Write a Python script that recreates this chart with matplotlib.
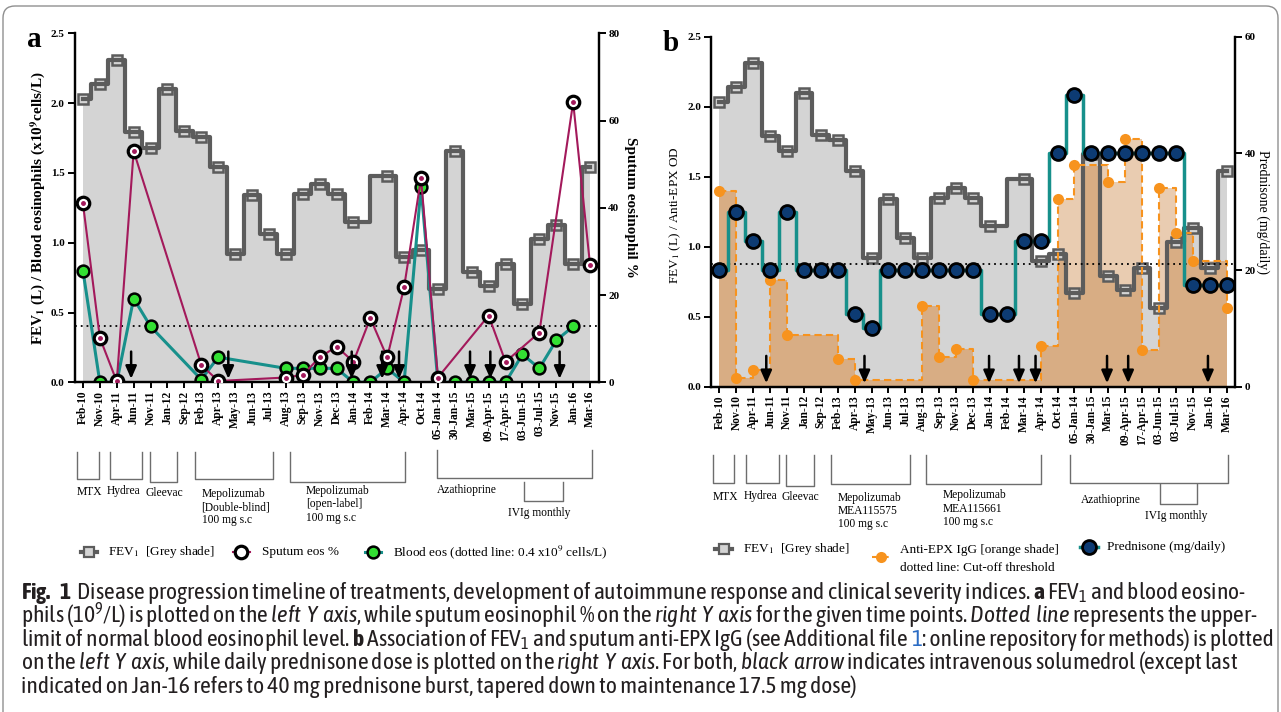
import numpy as np
import matplotlib
matplotlib.use("Agg")
import matplotlib.pyplot as plt
import matplotlib.transforms as mtransforms
from matplotlib.lines import Line2D
from matplotlib.patches import FancyBboxPatch
from matplotlib import font_manager

SERIF = "Liberation Serif"


def gewicht(w):
    if isinstance(w, str):
        return font_manager.weight_dict.get(w, 400)
    return w


def schmale_schrift():
    # schmale Sans fuer die Bildunterschrift suchen, moeglichst mit fettem Schnitt
    familien = {}
    for f in font_manager.fontManager.ttflist:
        if "CJK" in f.name:
            continue
        if "Narrow" in f.name or "Condensed" in f.name:
            familien.setdefault((f.name, "normal"), set()).add(gewicht(f.weight))
        elif "condensed" in str(f.stretch) and f.name in ("DejaVu Sans", "Noto Sans", "Open Sans", "Roboto",
                                                          "Liberation Sans", "Lato", "Inter"):
            familien.setdefault((f.name, str(f.stretch)), set()).add(gewicht(f.weight))
    mit_fett = sorted(k for k, g in familien.items() if min(g) <= 400 and max(g) >= 700)
    if mit_fett:
        return mit_fett[0][0], mit_fett[0][1], True
    ohne = sorted(k for k, g in familien.items() if min(g) <= 400)
    if ohne:
        return ohne[0][0], ohne[0][1], False
    return "Liberation Sans", "normal", True


SANS, STRETCH, HAT_FETT = schmale_schrift()
muster = SANS if STRETCH == "normal" else SANS + ":stretch=" + STRETCH

plt.rcParams["font.family"] = [SERIF, "DejaVu Serif"]
plt.rcParams["mathtext.fontset"] = "custom"
plt.rcParams["mathtext.rm"] = muster + ":weight=normal"
plt.rcParams["mathtext.it"] = muster + ":style=italic:weight=normal"
plt.rcParams["mathtext.bf"] = (muster if HAT_FETT else "Liberation Sans") + ":weight=bold"

# ---------------- Daten (None = kein Messwert) ----------------
datum = ["Feb-10", "Nov-10", "Apr-11", "Jun-11", "Nov-11", "Jan-12", "Sep-12", "Feb-13",
         "Apr-13", "May-13", "Jun-13", "Jul-13", "Aug-13", "Sep-13", "Nov-13", "Dec-13",
         "Jan-14", "Feb-14", "Mar-14", "Apr-14", "Oct-14", "05-Jan-14", "30-Jan-15", "Mar-15",
         "09-Apr-15", "17-Apr-15", "03-Jun-15", "03-Jul-15", "Nov-15", "Jan-16", "Mar-16"]

fev1 = [2.03, 2.14, 2.31, 1.79, 1.68, 2.10, 1.80, 1.76, 1.54, 0.92, 1.34, 1.06, 0.92, 1.35, 1.42, 1.35,
        1.15, None, 1.48, 0.90, 0.95, 0.67, 1.66, 0.79, 0.69, 0.85, 0.56, 1.03, 1.13, 0.85, 1.54]
sputum = [41.0, 10.2, 0.2, 53.0, None, None, None, 4.0, 0.3, None, None, None, 1.1, 1.7, 5.7, 8.2,
          4.7, 14.7, 5.7, 21.8, 46.8, 1.1, None, None, 15.3, 4.7, None, 11.4, None, 64.2, 26.9]
blut_eos = [0.80, 0.0, 0.0, 0.60, 0.40, None, None, 0.02, 0.18, None, None, None, 0.10, 0.10, 0.10, 0.10,
            0.0, 0.0, 0.10, 0.0, 1.40, 0.0, 0.0, 0.0, 0.0, 0.0, 0.20, 0.10, 0.30, 0.40, None]
anti_epx = [1.40, 0.06, 0.12, 0.76, 0.37, None, None, 0.20, 0.05, None, None, None, 0.58, 0.21, 0.27, 0.05,
            None, None, None, 0.29, 1.34, 1.58, None, 1.46, 1.77, 0.26, 1.42, 1.10, 0.90, None, 0.56]
prednison = [20, 30, 25, 20, 30, 20, 20, 20, 12.5, 10, 20, 20, 20, 20, 20, 20,
             12.5, 12.5, 25, 25, 40, 50, 40, 40, 40, 40, 40, 40, 17.5, 17.5, 17.5]
eos_grenze = 0.4
epx_grenze = 0.875
pfeile_a = [2.85, 8.6, 15.9, 17.7, 18.7, 22.9, 24.1, 28.2]   # Solumedrol i.v.
pfeile_b = [2.77, 8.58, 15.95, 17.72, 18.7, 22.93, 24.18, 28.9]

W, H = 1281, 712
GRAU_F = "#d4d4d4"
GRAU = "#5c5c5c"
TEAL = "#17908b"
ROT = "#a3195b"
GRUEN = "#33e033"
NAVY = "#0d3b73"
ORANGE = "#f7931e"
TAN_D = "#d8ad84"
TAN_H = "#e9ccb1"


def fy(y):
    return 1 - y / H


def punkte(werte):
    x = np.array([i for i, w in enumerate(werte) if w is not None])
    y = np.array([w for w in werte if w is not None], dtype=float)
    return x, y


def achsen(ax, ax2, rechts_max, rechts_ticks):
    ax.set_xlim(-0.5, len(datum) - 0.5)
    ax.set_ylim(0, 2.5)
    ax2.set_ylim(0, rechts_max)
    ax.set_xticks(range(len(datum)))
    ax.set_xticklabels(datum, rotation=90, fontsize=8.3, fontweight="bold")
    ax.set_yticks(np.arange(0, 2.51, 0.5), ["%.1f" % v for v in np.arange(0, 2.51, 0.5)],
                  fontweight="bold", fontsize=8)
    ax2.set_yticks(rechts_ticks, [str(v) for v in rechts_ticks], fontweight="bold", fontsize=8)
    for a in (ax, ax2):
        a.spines["top"].set_visible(False)
        for s in a.spines.values():
            s.set_linewidth(1.6)
        a.tick_params(direction="out", width=1.4, length=5, pad=2)
    ax.tick_params(axis="x", length=4)


def fev_zeichnen(ax):
    x, y = punkte(fev1)
    grau = ax.fill_between(x, y, step="mid", color=GRAU_F, lw=0, zorder=1)
    ax.plot(x, y, "s", ms=7.5, mfc=GRAU_F, mec=GRAU, mew=1.8, zorder=4)
    ax.step(x, y, where="mid", color=GRAU, lw=3, zorder=5)
    return grau


def pfeile(ax, ax2, liste):
    for p in liste:
        ax2.annotate("", xy=(p, 0.025), xytext=(p, 0.22), xycoords=ax.transData, textcoords=ax.transData,
                     arrowprops=dict(arrowstyle="-|>,head_width=0.33,head_length=0.75", color="k",
                                     lw=1.8, shrinkA=0, shrinkB=0), zorder=20)


def klammern(fig, ax, liste, texte):
    tr = mtransforms.blended_transform_factory(ax.transData, fig.transFigure)
    for x0, x1, yo, yu in liste:
        ax.plot([x0, x0, x1, x1], [fy(yo), fy(yu), fy(yu), fy(yo)], color="#6d6d6d", lw=1,
                transform=tr, clip_on=False)
    for x, y, s in texte:
        ax.text(x, fy(y), s, transform=tr, va="top", ha="left", fontsize=8.3, linespacing=1.15)


def legende(fig, x0, x1, y, text, linie, punkt, tx=None):
    fig.add_artist(Line2D([x0 / W, (x0 + x1) / 2 / W, x1 / W], [fy(y)] * 3, markevery=[1], **linie, **punkt))
    if text:
        fig.text((tx if tx else x1 + 11) / W, fy(y), text, fontsize=9.5, va="center", math_fontfamily="stix")


fig = plt.figure(figsize=(W / 100, H / 100), dpi=100)

# ---------------- Panel a ----------------
ax = fig.add_axes([74.5 / W, fy(382.3), 524 / W, 349 / H])
ax2 = ax.twinx()
achsen(ax, ax2, 80, [0, 20, 40, 60, 80])
fev_zeichnen(ax)
ax.axhline(eos_grenze, color="k", lw=1.3, ls=(0, (1, 2.2)), zorder=6)
x, y = punkte(blut_eos)
ax.plot(x, y, color=TEAL, lw=2.2, zorder=7)
ax.plot(x, y, "o", ms=8.5, mfc=GRUEN, mec="k", mew=1.8, zorder=8)
x, y = punkte(sputum)
ax2.plot(x, y, color=ROT, lw=1.5, zorder=2)
ax2.plot(x, y, "o", ms=9, mfc="white", mec="k", mew=2.3, zorder=3)
ax2.plot(x, y, "o", ms=2.5, color=ROT, zorder=4)
pfeile(ax, ax2, pfeile_a)
ax.set_ylabel(r"FEV$_\mathbf{1}$ (L) / Blood eosinophils (x10$^\mathbf{9}$cells/L)", fontsize=11,
              fontweight="bold", va="center", math_fontfamily="stix")
ax.yaxis.set_label_coords(-0.0697, 0.5)
ax2.set_ylabel("Sputum eosinophil %", fontsize=11, fontweight="bold", rotation=270, va="center")
ax2.yaxis.set_label_coords(1.062, 0.5)

klammern(fig, ax,
         [(-0.34, 0.95, 452, 479), (1.6, 3.49, 452, 479), (3.96, 5.54, 452, 481.7), (6.63, 11.26, 452, 479),
          (12.25, 19.07, 452, 481.7), (20.96, 30.1, 450, 477.7), (26.1, 28.42, 481.7, 500.7)],
         [(-0.35, 486, "MTX"), (1.4, 485, "Hydrea"), (3.71, 487, "Gleevac"),
          (7.02, 487.7, "Mepolizumab\n[Double-blind]\n100 mg s.c"),
          (13.2, 485, "Mepolizumab\n[open-label]\n100 mg s.c"),
          (20.96, 484, "Azathioprine"), (25.13, 506.7, "IVIg monthly")])

legende(fig, 81, 97, 552, r"FEV$_1$  [Grey shade]", dict(color=GRAU, lw=3),
        dict(marker="s", ms=7, mfc=GRAU_F, mec=GRAU, mew=1.6), tx=108)
legende(fig, 233, 250, 552, "Sputum eos %", dict(color=ROT, lw=1.5),
        dict(marker="o", ms=9, mfc="white", mec="k", mew=2.3), tx=262)
legende(fig, 365, 381, 552, r"Blood eos (dotted line: 0.4 x10$^9$ cells/L)", dict(color=TEAL, lw=2.2),
        dict(marker="o", ms=8.5, mfc=GRUEN, mec="k", mew=1.8), tx=393)

# ---------------- Panel b ----------------
bx = fig.add_axes([711 / W, fy(386.7), 524 / W, 350 / H])
bx2 = bx.twinx()
achsen(bx, bx2, 60, [0, 20, 40, 60])
grau = fev_zeichnen(bx)
x, y = punkte(anti_epx)
bx.fill_between(x, y, step="post", color=TAN_H, lw=0, zorder=1.5)
dunkel = bx.fill_between(x, y, step="post", color=TAN_D, lw=0, zorder=1.6)
dunkel.set_clip_path(grau.get_paths()[0], bx.transData)
bx.step(x, y, where="post", color=ORANGE, lw=1.5, ls=(0, (3.5, 2)), zorder=6)
bx.plot(x, y, "o", ms=8, color=ORANGE, mec="none", zorder=7)
bx.axhline(epx_grenze, color="k", lw=1.3, ls=(0, (1, 2.2)), zorder=6)
x, y = punkte(prednison)
bx2.step(x, y, where="mid", color=TEAL, lw=2.5, zorder=2)
bx2.plot(x, y, "o", ms=10, mfc=NAVY, mec="k", mew=2, zorder=3)
pfeile(bx, bx2, pfeile_b)
bx.set_ylabel(r"FEV$_1$ (L) / Anti-EPX OD", fontsize=9.5, va="center", math_fontfamily="stix")
bx.yaxis.set_label_coords(-0.0687, 0.49)
bx2.set_ylabel("Prednisone (mg/daily)", fontsize=10, rotation=270, va="center")
bx2.yaxis.set_label_coords(1.053, 0.5)

klammern(fig, bx,
         [(-0.4, 0.89, 455, 483.3), (1.58, 3.51, 455, 483.3), (3.95, 5.62, 455, 485.7), (6.61, 11.29, 455, 484.3),
          (12.24, 19.0, 455, 484), (20.72, 30.1, 455, 482.7), (26.05, 28.26, 484, 504)],
         [(-0.41, 490.7, "MTX"), (1.42, 490, "Hydrea"), (3.65, 491, "Gleevac"),
          (6.99, 491.7, "Mepolizumab\nMEA115575\n100 mg s.c"),
          (13.2, 489.3, "Mepolizumab\nMEA115661\n100 mg s.c"),
          (21.41, 494, "Azathioprine"), (25.16, 510, "IVIg monthly")])

legende(fig, 715, 732, 549, r"FEV$_1$  [Grey shade]", dict(color=GRAU, lw=3),
        dict(marker="s", ms=7, mfc=GRAU_F, mec=GRAU, mew=1.6), tx=743)
legende(fig, 872, 890, 557, None, dict(color=ORANGE, lw=1.5, ls=(0, (3, 2))),
        dict(marker="o", ms=8, mfc=ORANGE, mec="none"))
fig.text(900 / W, fy(550), "Anti-EPX IgG [orange shade]", fontsize=9.5, va="center")
fig.text(900 / W, fy(568), "dotted line: Cut-off threshold", fontsize=9.5, va="center")
legende(fig, 1080, 1098, 547, "Prednisone (mg/daily)", dict(color=TEAL, lw=2.5),
        dict(marker="o", ms=10, mfc=NAVY, mec="k", mew=2), tx=1107)

fig.text(27 / W, fy(47), "a", fontsize=21, fontweight="bold", va="baseline")
fig.text(663 / W, fy(51), "b", fontsize=21, fontweight="bold", va="baseline")

# ---------------- Rahmen + Bildunterschrift ----------------
rahmen = FancyBboxPatch((3, -30), 1275, 736, boxstyle="round,pad=0,rounding_size=12",
                        transform=mtransforms.IdentityTransform(), fc="none", ec="#8f8f8f", lw=1)
fig.add_artist(rahmen)

zeile1 = (r"$\mathbf{Fig.\ 1}$  Disease progression timeline of treatments, development of autoimmune "
          r"response and clinical severity indices. $\mathbf{a}$ FEV$_1$ and blood eosino-")
zeile3a = (r"limit of normal blood eosinophil level. $\mathbf{b}$ Association of FEV$_1$ "
           r"and sputum anti-EPX IgG (see Additional file")
zeile3c = ": online repository for methods) is plotted"

r = fig.canvas.get_renderer()
CAP = dict(fontsize=15, family=SANS, stretch=STRETCH, color="#231f20", va="baseline")
# Schriftgroesse so, dass Zeile 1 (21..1265 px) und Zeile 3 (21..1276 px) passen
p1 = fig.text(0, 0.5, zeile1, **CAP)
p3 = fig.text(0, 0.5, zeile3a + " 1" + zeile3c, **CAP)
CAP["fontsize"] = 15 * min(1244 / p1.get_window_extent(r).width, 1254 / p3.get_window_extent(r).width)
p1.remove()
p3.remove()

zeilen = [
    (599, zeile1),
    (623, r"phils (10$^9$/L) is plotted on the $\mathit{left\ Y\ axis}$, while sputum eosinophil % on the "
          r"$\mathit{right\ Y\ axis}$ for the given time points. $\mathit{Dotted\ line}$ represents the upper-"),
    (669, r"on the $\mathit{left\ Y\ axis}$, while daily prednisone dose is plotted on the "
          r"$\mathit{right\ Y\ axis}$. For both, $\mathit{black\ arrow}$ indicates intravenous solumedrol (except last"),
    (693, "indicated on Jan-16 refers to 40 mg prednisone burst, tapered down to maintenance 17.5 mg dose)"),
]
for y, s in zeilen:
    fig.text(21 / W, fy(y), s, **CAP)

t1 = fig.text(0, 0.5, "a a", **CAP)
t2 = fig.text(0, 0.5, "aa", **CAP)
leer = t1.get_window_extent(r).width - t2.get_window_extent(r).width
t1.remove()
t2.remove()
t = fig.text(21 / W, fy(646), zeile3a, **CAP)
xe = t.get_window_extent(r).x1 + leer
t = fig.text(xe / W, fy(646), "1", **dict(CAP, color="#2b6cc4"))
xe = t.get_window_extent(r).x1
fig.text(xe / W, fy(646), zeile3c, **CAP)

fig.savefig("out.png", dpi=100)
